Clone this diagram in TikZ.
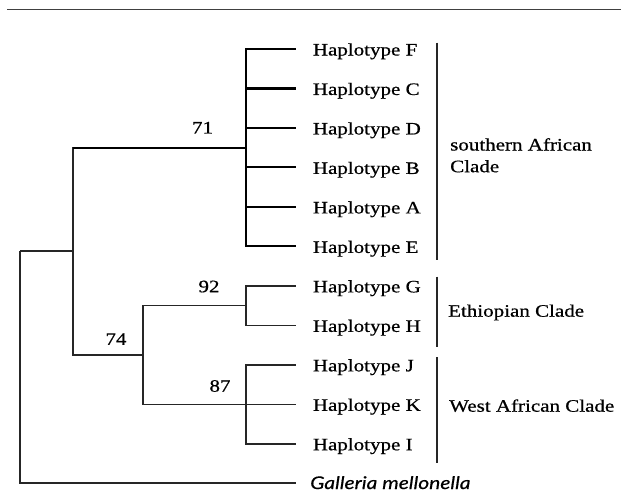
\documentclass[tikz,border=0pt]{standalone}
\usepackage{fontspec}
\usepackage{graphicx}
\setmainfont{Liberation Serif}[FakeBold=0.6]
\newfontfamily\speciesfont{Lato}[FakeBold=0.4]
\newcommand{\wide}[1]{\scalebox{1.2}[1]{#1}}
\begin{document}
\begin{tikzpicture}[x=1pt, y=-1pt,
  branch/.style={line width=1.6pt, black!85},
  boldbranch/.style={line width=2.1pt, black},
  cladebar/.style={line width=1.6pt, black!85},
  taxon/.style={anchor=base west, inner sep=0pt, font=\fontsize{17.5}{21.7}\selectfont},
  support/.style={inner sep=0pt, font=\fontsize{17.5}{20}\selectfont},
  cladename/.style={inner sep=0pt, align=left, font=\fontsize{17.5}{21.7}\selectfont}]
\useasboundingbox (0,0) rectangle (623,493);

% rule above the tree
\coordinate (ruleL) at (7,9.5);
\coordinate (ruleR) at (621,9.5);
\draw[line width=1.8pt, black!75] (ruleL) -- (ruleR);

% tips
\foreach \n/\i in {F/0,C/1,D/2,B/3,A/4,E/5,G/6,H/7,J/8,K/9,I/10,Gal/11}
  \coordinate (t\n) at (296,49+39.48*\i);

% internal nodes
\coordinate (root) at (20,251);
\coordinate (n1) at (73,251);
\coordinate (nS) at (246,147.7);
\coordinate (n74) at (143,355);
\coordinate (n92) at (246,305.6);
\coordinate (n87) at (246,404.3);

% branches
\draw[branch] (root) -- (n1);
\draw[branch] (root) |- (tGal);
\draw[branch] (n1) |- (nS);
\draw[boldbranch] (n1 |- nS) -- (nS);
\draw[branch] (n1) |- (n74);
\foreach \t in {F,C,D,B,A,E}
  \draw[boldbranch] (nS) |- (t\t);
\draw[branch] (n74) |- (n92);
\draw[branch] (n74) |- (n87);
\foreach \t in {G,H}
  \draw[branch] (n92) |- (t\t);
\foreach \t in {J,K,I}
  \draw[branch] (n87) |- (t\t);

% support values
\node[support] (s71) at (202.5,127.7) {\wide{71}};
\node[support] (s74) at (116,339) {\wide{74}};
\node[support] (s92) at (209,286.5) {\wide{92}};
\node[support] (s87) at (220,386) {\wide{87}};

% taxon labels
\foreach \n/\i in {F/0,C/1,D/2,B/3,A/4,E/5,G/6,H/7,J/8,K/9,I/10}
  \node[taxon] (l\n) at (312.7,49+39.48*\i+6.5) {\wide{Haplotype \n}};
\node[taxon, font=\fontsize{17.5}{20}\speciesfont\itshape] (lGal) at (310,489) {\wide{Galleria mellonella}};

% clade bars and names
\coordinate (sTop) at (437,42.7);
\coordinate (sBot) at (437,260);
\coordinate (eTop) at (437,276.7);
\coordinate (eBot) at (437,347);
\coordinate (wTop) at (437,357);
\coordinate (wBot) at (437,463);
\draw[cladebar] (sTop) -- (sBot);
\draw[cladebar] (eTop) -- (eBot);
\draw[cladebar] (wTop) -- (wBot);
\node[cladename, anchor=north west] (cS) at (450,138) {\wide{southern African}\\\wide{Clade}};
\node[taxon] (cE) at (448,316.7) {\wide{Ethiopian Clade}};
\node[taxon] (cW) at (449,411.7) {\wide{West African Clade}};
\end{tikzpicture}
\end{document}
